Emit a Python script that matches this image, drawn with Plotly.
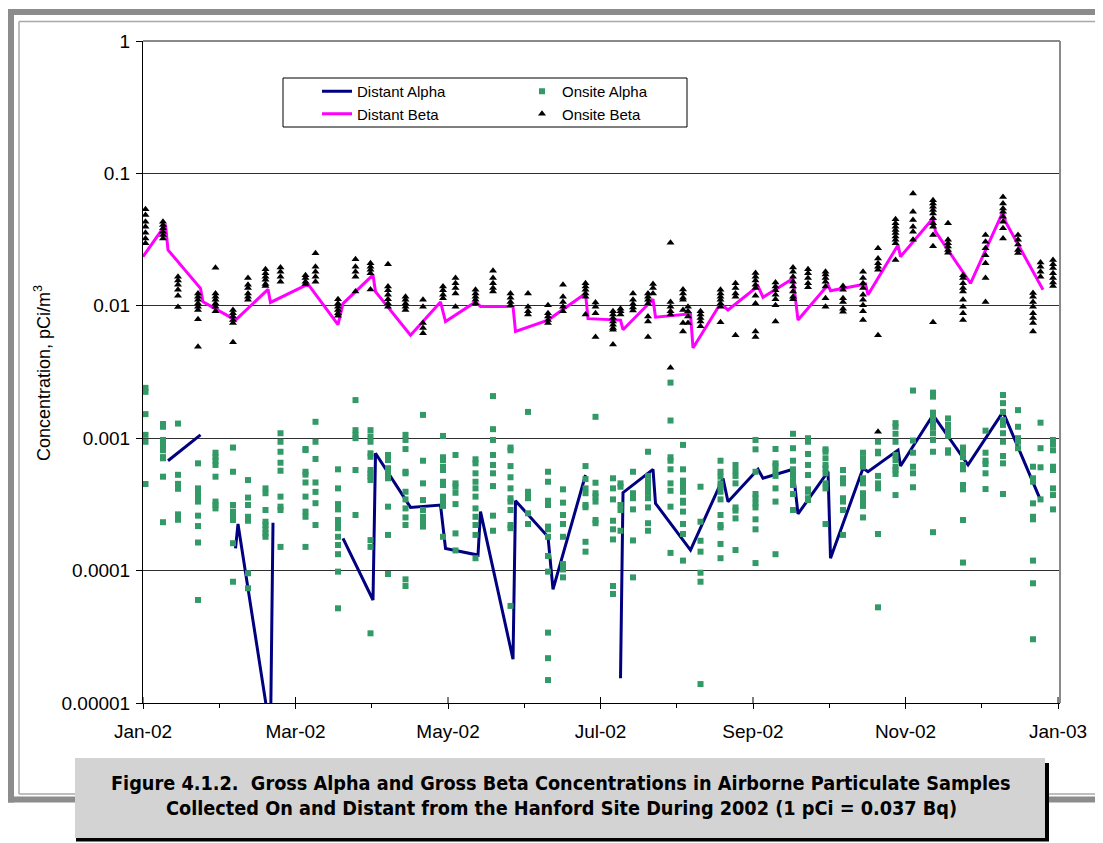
import plotly.graph_objects as go

# ---------------- data ----------------
distant_beta_dates = ["2002-01-01", "2002-01-10", "2002-01-11", "2002-01-24", "2002-01-25", "2002-02-07",
                      "2002-02-20", "2002-02-21", "2002-03-08", "2002-03-20", "2002-03-22", "2002-04-03",
                      "2002-04-04", "2002-04-18", "2002-04-30", "2002-05-02", "2002-05-14", "2002-05-16",
                      "2002-05-29", "2002-05-30", "2002-06-12", "2002-06-27", "2002-06-28", "2002-07-11",
                      "2002-07-12", "2002-07-23", "2002-07-24", "2002-07-25", "2002-08-08", "2002-08-09",
                      "2002-08-20", "2002-08-23", "2002-09-04", "2002-09-06", "2002-09-18", "2002-09-20",
                      "2002-10-02", "2002-10-03", "2002-10-17", "2002-10-18", "2002-10-30", "2002-10-31",
                      "2002-11-13", "2002-11-14", "2002-11-28", "2002-12-11", "2002-12-12", "2002-12-27"]
distant_beta = [0.0235, 0.041, 0.0264, 0.01355, 0.0107, 0.0078,
                0.0133, 0.0106, 0.0146, 0.0072, 0.0104, 0.0171,
                0.0128, 0.0060, 0.0107, 0.0076, 0.0107, 0.0099,
                0.0099, 0.0064, 0.0078, 0.0124, 0.0080, 0.0078,
                0.0066, 0.0107, 0.0112, 0.0082, 0.0087, 0.0048,
                0.0104, 0.0093, 0.0141, 0.0116, 0.0161, 0.0078,
                0.0144, 0.0130, 0.0146, 0.0121, 0.0288, 0.0235,
                0.0458, 0.0363, 0.0148, 0.0514, 0.0432, 0.0132]

distant_alpha_dates = ["2002-01-11", "2002-01-24", "2002-02-01", "2002-02-07", "2002-02-08", "2002-02-21",
                       "2002-02-22", "2002-03-10", "2002-03-22", "2002-04-03", "2002-04-04", "2002-04-18",
                       "2002-04-30", "2002-05-02", "2002-05-15", "2002-05-16", "2002-05-29", "2002-05-30",
                       "2002-06-12", "2002-06-14", "2002-06-27", "2002-07-04", "2002-07-11", "2002-07-12",
                       "2002-07-24", "2002-07-25", "2002-08-08", "2002-08-21", "2002-08-23", "2002-09-04",
                       "2002-09-06", "2002-09-18", "2002-09-20", "2002-10-02", "2002-10-03", "2002-10-16",
                       "2002-10-18", "2002-10-30", "2002-10-31", "2002-11-13", "2002-11-27", "2002-12-11",
                       "2002-12-26"]
distant_alpha = [0.000676, 0.00106, None, 0.000147, 0.000225, 0.0000059,
                 0.00023, None, 0.000175, 0.00006, 0.000769, 0.0003,
                 0.000313, 0.000147, 0.000131, 0.000279, 0.0000214, 0.000337,
                 0.00018, 0.0000722, 0.000527, None, 0.0000154, 0.000388,
                 0.000582, 0.000322, 0.000143, 0.000498, 0.000331, 0.000582,
                 0.000498, 0.000582, 0.000268, 0.00056, 0.000124, 0.000593,
                 0.000558, 0.000814, 0.000616, 0.0015, 0.000628, 0.00158,
                 0.000341]

onsite_dates = ["2002-01-02", "2002-01-09", "2002-01-15", "2002-01-23", "2002-01-30", "2002-02-06",
                "2002-02-12", "2002-02-19", "2002-02-25", "2002-03-07", "2002-03-11", "2002-03-20",
                "2002-03-27", "2002-04-02", "2002-04-09", "2002-04-16", "2002-04-23", "2002-05-01",
                "2002-05-06", "2002-05-14", "2002-05-21", "2002-05-28", "2002-06-04", "2002-06-12",
                "2002-06-18", "2002-06-27", "2002-07-01", "2002-07-08", "2002-07-11", "2002-07-16",
                "2002-07-22", "2002-07-24", "2002-07-31", "2002-08-05", "2002-08-07", "2002-08-12",
                "2002-08-20", "2002-08-26", "2002-09-03", "2002-09-11", "2002-09-18", "2002-09-24",
                "2002-10-01", "2002-10-08", "2002-10-16", "2002-10-22", "2002-10-29", "2002-11-05",
                "2002-11-13", "2002-11-19", "2002-11-25", "2002-12-04", "2002-12-11", "2002-12-17",
                "2002-12-23", "2002-12-26", "2002-12-31"]

onsite_beta = [
    [0.0535, 0.0485, 0.0432, 0.0396, 0.0356, 0.0323, 0.0297],
    [0.0432, 0.0408, 0.0385, 0.0363, 0.0342, 0.0323],
    [0.0166, 0.0155, 0.0144, 0.0132, 0.0119, 0.0098],
    [0.0124, 0.0117, 0.0111, 0.0104, 0.00985, 0.0093, 0.0079, 0.0049],
    [0.0194, 0.0124, 0.0117, 0.0111, 0.0104, 0.00985, 0.0091],
    [0.0093, 0.0088, 0.0083, 0.0078, 0.0074, 0.0053],
    [0.0162, 0.0144, 0.0136, 0.0124, 0.0117, 0.0111],
    [0.0189, 0.0176, 0.0166, 0.0157, 0.0146, 0.0141],
    [0.0195, 0.0181, 0.0166, 0.0152],
    [0.017, 0.0162, 0.0152, 0.0146],
    [0.0249, 0.0197, 0.0181, 0.0166, 0.0152],
    [0.0112, 0.0104, 0.00985, 0.0093, 0.0088, 0.0084],
    [0.0225, 0.0197, 0.0181, 0.0166, 0.0128],
    [0.021, 0.0197, 0.0187, 0.0176, 0.0133],
    [0.0206, 0.014, 0.0131, 0.0121, 0.0112, 0.0104, 0.00985],
    [0.0117, 0.0111, 0.0104, 0.00985, 0.0093],
    [0.0111, 0.00985, 0.0074, 0.0068, 0.0062],
    [0.014, 0.0131, 0.0121, 0.0114],
    [0.0162, 0.0148, 0.0136, 0.0124, 0.00985],
    [0.0132, 0.0124, 0.0117, 0.0111, 0.0104],
    [0.0184, 0.0162, 0.0148, 0.0136, 0.0128],
    [0.0124, 0.0115, 0.0107, 0.0101],
    [0.0124, 0.00985, 0.0091, 0.0086],
    [0.0101, 0.0088, 0.0083, 0.0078, 0.0074],
    [0.0144, 0.0117, 0.0107, 0.00985, 0.0091],
    [0.0148, 0.014, 0.0132, 0.0124, 0.0117, 0.0086],
    [0.0106, 0.00985, 0.0088, 0.0058],
    [0.0091, 0.0086, 0.0081, 0.0076, 0.0072, 0.0068, 0.0066, 0.0051],
    [0.0095, 0.0091, 0.0086],
    [0.0124, 0.0111, 0.0103, 0.0097, 0.0092],
    [0.0124, 0.0117, 0.0111, 0.0104, 0.0083, 0.0076, 0.0058],
    [0.0146, 0.0136, 0.0124],
    [0.030, 0.0107, 0.00985, 0.0091, 0.0086, 0.0034],
    [0.0133, 0.0124, 0.0115, 0.0111, 0.0093, 0.0074, 0.0064],
    [0.00985, 0.0091, 0.0083, 0.0074],
    [0.0091, 0.0086, 0.0081, 0.0076, 0.007],
    [0.0132, 0.0124, 0.0117, 0.0111, 0.0104, 0.00985, 0.0075],
    [0.0148, 0.0136, 0.0124, 0.0117, 0.006],
    [0.0177, 0.0166, 0.0155, 0.0144, 0.0136, 0.0119, 0.0104, 0.0064, 0.0058],
    [0.015, 0.014, 0.0131, 0.0121, 0.0112, 0.0101, 0.0076],
    [0.0195, 0.0181, 0.0166, 0.0152, 0.014, 0.0128, 0.0117, 0.0112],
    [0.0189, 0.0176, 0.0162, 0.0148, 0.0138],
    [0.0181, 0.0172, 0.0162, 0.0152, 0.014, 0.0114, 0.00985],
    [0.0141, 0.0132, 0.0114, 0.0107, 0.0095, 0.009],
    [0.0181, 0.0162, 0.0148, 0.0136, 0.0121, 0.0111, 0.0101, 0.0091, 0.0078],
    [0.0272, 0.0228, 0.021, 0.0197, 0.0187, 0.006, 0.00112],
    [0.045, 0.042, 0.0396, 0.0374, 0.0354, 0.0334, 0.0316, 0.0297, 0.0222],
    [0.0705, 0.0514, 0.0445, 0.0396, 0.0363, 0.0316],
    [0.0628, 0.0593, 0.056, 0.0528, 0.0498, 0.0458, 0.042, 0.0396, 0.0342, 0.0282, 0.0075],
    [0.042, 0.0316, 0.0297, 0.028, 0.0264, 0.0252],
    [0.017, 0.0162, 0.0148, 0.0136, 0.0128, 0.0111, 0.00985, 0.0088, 0.0078],
    [0.0342, 0.0305, 0.0272, 0.0241, 0.021, 0.0162, 0.0107],
    [0.0662, 0.0593, 0.0544, 0.0514, 0.047, 0.0432, 0.0385, 0.0323],
    [0.0342, 0.0316, 0.029, 0.0264, 0.025],
    [0.0125, 0.0117, 0.0107, 0.00985, 0.0088, 0.0081, 0.0074, 0.0064],
    [0.0212, 0.0197, 0.0181, 0.0166],
    [0.0222, 0.0206, 0.0193, 0.0176, 0.0162, 0.015, 0.0141],
]

onsite_alpha = [
    [0.0024, 0.00224, 0.00152, 0.00106, 0.00094, 0.000451],
    [0.00128, 0.00122, 0.00097, 0.00091, 0.00086, 0.00081, 0.00072, 0.000705, 0.000512, 0.000232],
    [0.00129, 0.000529, 0.000452, 0.000415, 0.000266, 0.000242],
    [0.000646, 0.000418, 0.000384, 0.000352, 0.000332, 0.00026, 0.000217, 0.000163, 0.00006],
    [0.000777, 0.000724, 0.000676, 0.000628, 0.000512, 0.000332, 0.000313, 0.000295],
    [0.00085, 0.000558, 0.000313, 0.000279, 0.000263, 0.000255, 0.000241, 0.000161, 0.0000824],
    [0.000483, 0.000356, 0.000313, 0.000255, 0.000238, 0.0000955, 0.0000735],
    [0.000418, 0.000384, 0.000287, 0.000234, 0.000221, 0.000205, 0.000191, 0.00018],
    [0.00109, 0.00094, 0.00079, 0.000653, 0.000568, 0.000362, 0.000304, 0.000287, 0.000151],
    [0.000829, 0.000813, 0.000558, 0.000531, 0.000463, 0.000362, 0.000279, 0.000255, 0.000151],
    [0.00133, 0.00094, 0.000697, 0.000463, 0.000393, 0.000323, 0.000221],
    [0.000582, 0.000418, 0.000318, 0.00029, 0.000241, 0.000225, 0.000209, 0.00018, 0.000156, 0.000133, 0.0000982, 0.0000519],
    [0.00194, 0.00115, 0.00106, 0.001, 0.000575, 0.000263],
    [0.00115, 0.00103, 0.00094, 0.000769, 0.000724, 0.000575, 0.000543, 0.000512, 0.000483, 0.00017, 0.000151, 0.0000336],
    [0.000747, 0.000684, 0.000593, 0.000543, 0.000498, 0.000304, 0.000186, 0.0000942],
    [0.00106, 0.00097, 0.000828, 0.000558, 0.000543, 0.000394, 0.000345, 0.000295, 0.000252, 0.000221, 0.0000859, 0.0000765],
    [0.0015, 0.000676, 0.000456, 0.000341, 0.000287, 0.000255, 0.000234, 0.000215],
    [0.00104, 0.000718, 0.000684, 0.000609, 0.000575, 0.000469, 0.000443, 0.000362, 0.000341, 0.000308, 0.00018],
    [0.000747, 0.000456, 0.00043, 0.000387, 0.000318, 0.000191, 0.000142],
    [0.000693, 0.000646, 0.000543, 0.000469, 0.000418, 0.000362, 0.000295, 0.000255, 0.000221, 0.000186, 0.000124],
    [0.00208, 0.00117, 0.00097, 0.000747, 0.000628, 0.000543, 0.000435, 0.00026, 0.0002],
    [0.00085, 0.00081, 0.000616, 0.000507, 0.000418, 0.000352, 0.000332, 0.000287, 0.000221, 0.000209, 0.0000541],
    [0.00158, 0.000394, 0.000372, 0.000352, 0.000271, 0.000225],
    [0.000558, 0.000469, 0.000337, 0.000313, 0.000215, 0.000205, 0.00018, 0.000129, 0.0000982, 0.000034, 0.0000218, 0.0000149],
    [0.000411, 0.000326, 0.000263, 0.000225, 0.00018, 0.000112, 0.000102, 0.0000889],
    [0.000616, 0.000491, 0.000418, 0.000384, 0.000313, 0.000301, 0.000165, 0.000139],
    [0.00145, 0.000461, 0.000384, 0.000362, 0.000332, 0.000241, 0.000228],
    [0.000498, 0.000418, 0.000345, 0.000238, 0.000205, 0.000172, 0.0000765, 0.0000666],
    [0.000456, 0.00043, 0.000313, 0.000287, 0.0002],
    [0.000558, 0.000384, 0.000352, 0.00029, 0.000169, 0.0000889],
    [0.00079, 0.000519, 0.000469, 0.000443, 0.000418, 0.000387, 0.000352, 0.0003, 0.000228, 0.0002],
    [],
    [0.00263, 0.00136, 0.000718, 0.000676, 0.000582, 0.000456, 0.000401, 0.000304, 0.000136],
    [0.00089, 0.000582, 0.000478, 0.000456, 0.000418, 0.000394, 0.000337, 0.000326, 0.000279, 0.000225, 0.000189, 0.000119],
    [],
    [0.00043, 0.000234, 0.000168, 0.000139, 0.0000964, 0.0000824, 0.0000139],
    [0.000676, 0.000558, 0.000512, 0.000456, 0.00043, 0.000394, 0.000345, 0.000263, 0.000221, 0.000212, 0.000159, 0.000124],
    [0.000628, 0.000568, 0.000519, 0.000456, 0.0003, 0.000284, 0.000248, 0.000143],
    [0.00097, 0.000824, 0.000558, 0.000379, 0.000352, 0.000322, 0.0003, 0.000244, 0.000205, 0.000114],
    [0.000829, 0.000646, 0.000616, 0.000558, 0.000519, 0.000418, 0.000332, 0.000133],
    [0.00108, 0.00084, 0.000676, 0.000582, 0.000558, 0.000519, 0.000469, 0.000443, 0.000379, 0.000287],
    [0.001, 0.00094, 0.00076, 0.000628, 0.000527, 0.000411, 0.000394, 0.000352, 0.000341],
    [0.000824, 0.00079, 0.000705, 0.000628, 0.000593, 0.000543, 0.000456, 0.000418, 0.000225],
    [0.000575, 0.000498, 0.000456, 0.000352, 0.000332, 0.000287, 0.000186],
    [0.000777, 0.000705, 0.000646, 0.000609, 0.000498, 0.000456, 0.000384, 0.000352, 0.000322, 0.000308, 0.000252],
    [0.00094, 0.00079, 0.000769, 0.000519, 0.000456, 0.000418, 0.000189, 0.0000528],
    [0.0013, 0.00122, 0.00108, 0.00094, 0.000747, 0.000684, 0.000609, 0.000575, 0.000537, 0.000372],
    [0.00229, 0.00096, 0.000777, 0.000609, 0.000543, 0.000426],
    [0.00221, 0.00206, 0.00156, 0.00145, 0.00131, 0.00121, 0.00109, 0.00097, 0.00079, 0.000195],
    [0.00141, 0.00126, 0.00115, 0.00104, 0.00081, 0.000777],
    [0.00085, 0.00079, 0.000718, 0.000628, 0.000582, 0.000443, 0.000411, 0.000241, 0.000115],
    [0.00114, 0.000777, 0.000676, 0.000638, 0.000543, 0.000413],
    [0.00212, 0.00184, 0.00158, 0.00137, 0.00126, 0.00109, 0.00094, 0.000734, 0.000646, 0.000379],
    [0.00163, 0.00122, 0.001, 0.00094, 0.00084],
    [0.000609, 0.000498, 0.000469, 0.000322, 0.000255, 0.000244, 0.000119, 0.0000802, 0.0000303],
    [0.00131, 0.00084, 0.000603, 0.000345],
    [0.00097, 0.0009, 0.00081, 0.000609, 0.000575, 0.000418, 0.000372, 0.00029],
]

x_tick_dates = ["2002-01-01", "2002-03-03", "2002-05-03", "2002-07-03", "2002-09-02", "2002-11-02", "2003-01-02"]
x_tick_labels = ["Jan-02", "Mar-02", "May-02", "Jul-02", "Sep-02", "Nov-02", "Jan-03"]
x_minor_dates = ["2002-01-31 12:00", "2002-04-02 12:00", "2002-06-02 12:00", "2002-08-02 12:00",
                 "2002-10-02 12:00", "2002-12-02 12:00"]
y_tick_vals = [0.00001, 0.0001, 0.001, 0.01, 0.1, 1]
y_tick_labels = ["0.00001", "0.0001", "0.001", "0.01", "0.1", "1"]

caption_line1 = "Figure 4.1.2.  Gross Alpha and Gross Beta Concentrations in Airborne Particulate Samples"
caption_line2 = "Collected On and Distant from the Hanford Site During 2002 (1 pCi = 0.037 Bq)"

# ---------------- geometry helpers ----------------
# Reference-picture pixel coordinates; the page body adds an 8px offset at top/left.
OFF = 8
W, H = 1103 - OFF, 843 - OFF
PL, PR, PT, PB = 143, 1060, 41, 703   # plot area in reference pixels


def pxx(x):
    return (x - PL) / (PR - PL)


def pxy(y):
    return (PB - y) / (PB - PT)


def flatten(dates, groups):
    xs, ys = [], []
    for d, g in zip(dates, groups):
        for v in g:
            xs.append(d)
            ys.append(v)
    return xs, ys


oa_x, oa_y = flatten(onsite_dates, onsite_alpha)
ob_x, ob_y = flatten(onsite_dates, onsite_beta)

NAVY = "#000080"
MAGENTA = "#FF00FF"
GREEN = "#339966"
FONT = "Liberation Sans, Arial, sans-serif"
CAPFONT = "DejaVu Sans Condensed, Liberation Sans Narrow, sans-serif"

fig = go.Figure()
fig.add_trace(go.Scatter(x=distant_alpha_dates, y=distant_alpha, mode="lines", name="Distant Alpha",
                         line=dict(color=NAVY, width=3), connectgaps=False,
                         legend="legend", legendgroup="a"))
fig.add_trace(go.Scatter(x=oa_x, y=oa_y, mode="markers", name="Onsite Alpha",
                         marker=dict(symbol="square", size=6, color=GREEN, line=dict(width=0)),
                         legend="legend2", legendgroup="c"))
fig.add_trace(go.Scatter(x=distant_beta_dates, y=distant_beta, mode="lines", name="Distant Beta",
                         line=dict(color=MAGENTA, width=3),
                         legend="legend", legendgroup="b"))
fig.add_trace(go.Scatter(x=ob_x, y=ob_y, mode="markers", name="Onsite Beta",
                         marker=dict(symbol="triangle-up", size=7, color="black", line=dict(width=0)),
                         legend="legend2", legendgroup="d"))


def seg(x0, y0, x1, y1, color, width):
    return dict(type="line", xref="paper", yref="paper", x0=pxx(x0), x1=pxx(x1), y0=pxy(y0), y1=pxy(y1),
                line=dict(color=color, width=width), layer="below")


shapes = []
# page frame (outer thick band + thin inner line), open to the right
shapes.append(seg(8, 12, 1110, 12, "#8c8c8c", 6))
shapes.append(seg(11, 9, 11, 802.5, "#8c8c8c", 6))
shapes.append(seg(8, 799.5, 1110, 799.5, "#8c8c8c", 6))
shapes.append(seg(19, 21.5, 1110, 21.5, "#a9a9a9", 1.5))
shapes.append(seg(19, 21.5, 19, 794, "#a9a9a9", 1.5))
shapes.append(seg(19, 794, 1110, 794, "#a9a9a9", 1.5))
# plot border (top / right)
shapes.append(dict(type="line", xref="paper", yref="paper", x0=0, x1=1, y0=1, y1=1,
                   line=dict(color="#8a8a8a", width=2)))
shapes.append(dict(type="line", xref="paper", yref="paper", x0=1, x1=1, y0=0, y1=1,
                   line=dict(color="#8a8a8a", width=2)))
# major x ticks crossing into the plot
for d in x_tick_dates:
    shapes.append(dict(type="line", xref="x", yref="paper", x0=d, x1=d, y0=0, y1=6 / (PB - PT),
                       line=dict(color="black", width=1)))
# legend box
shapes.append(dict(type="rect", xref="paper", yref="paper", x0=pxx(283), x1=pxx(687), y0=pxy(127), y1=pxy(78),
                   line=dict(color="black", width=1), fillcolor="white", layer="below"))
# caption box with shadow
shapes.append(dict(type="rect", xref="paper", yref="paper", x0=pxx(76), x1=pxx(1049), y0=pxy(841.5), y1=pxy(763),
                   line=dict(width=0), fillcolor="black"))
shapes.append(dict(type="rect", xref="paper", yref="paper", x0=pxx(75), x1=pxx(1045), y0=pxy(838), y1=pxy(758),
                   line=dict(width=0), fillcolor="#d3d3d3"))

annotations = [
    dict(text="Concentration, pCi/m<sup>3</sup>", xref="paper", yref="paper", x=pxx(42), y=pxy(373),
         textangle=-90, showarrow=False, font=dict(family=FONT, size=18, color="black"),
         xanchor="center", yanchor="middle"),
    dict(text=caption_line1, xref="paper", yref="paper", x=pxx(561), y=pxy(783),
         showarrow=False, font=dict(family=CAPFONT, size=19.7, color="black", weight="bold"),
         xanchor="center", yanchor="middle"),
    dict(text=caption_line2, xref="paper", yref="paper", x=pxx(561), y=pxy(808),
         showarrow=False, font=dict(family=CAPFONT, size=19.7, color="black", weight="bold"),
         xanchor="center", yanchor="middle"),
]

fig.update_layout(
    width=W, height=H,
    margin=dict(l=PL - OFF, r=W - (PR - OFF), t=PT - OFF, b=H - (PB - OFF), pad=0, autoexpand=False),
    paper_bgcolor="white", plot_bgcolor="white",
    font=dict(family=FONT, size=18, color="black"),
    shapes=shapes, annotations=annotations,
    legend=dict(x=pxx(317), y=pxy(75), xanchor="left", yanchor="top", bgcolor="rgba(0,0,0,0)",
                borderwidth=0, font=dict(family=FONT, size=15, color="black"), tracegroupgap=0,
                itemwidth=30),
    legend2=dict(x=pxx(522), y=pxy(75), xanchor="left", yanchor="top", bgcolor="rgba(0,0,0,0)",
                 borderwidth=0, font=dict(family=FONT, size=15, color="black"), tracegroupgap=0,
                 itemwidth=30),
    xaxis=dict(type="date", range=["2002-01-01", "2003-01-02 19:00"], tickmode="array", automargin=False,
               tickvals=x_tick_dates, ticktext=x_tick_labels, ticks="outside", ticklen=5,
               tickcolor="black", tickwidth=1, showgrid=False, showline=True, linecolor="black",
               linewidth=1, zeroline=False, tickfont=dict(family=FONT, size=19), ticklabelstandoff=6,
               minor=dict(tickvals=x_minor_dates, ticks="outside", ticklen=4, tickcolor="black",
                          showgrid=False)),
    yaxis=dict(type="log", range=[-5, 0], tickmode="array", tickvals=y_tick_vals, ticktext=y_tick_labels,
               automargin=False,
               ticks="outside", ticklen=6, tickcolor="black", showgrid=True, gridcolor="#303030",
               gridwidth=1, showline=True, linecolor="black", linewidth=1, zeroline=False,
               tickfont=dict(family=FONT, size=19), ticklabelstandoff=2),
    showlegend=True,
)

fig.write_html("out.html")
